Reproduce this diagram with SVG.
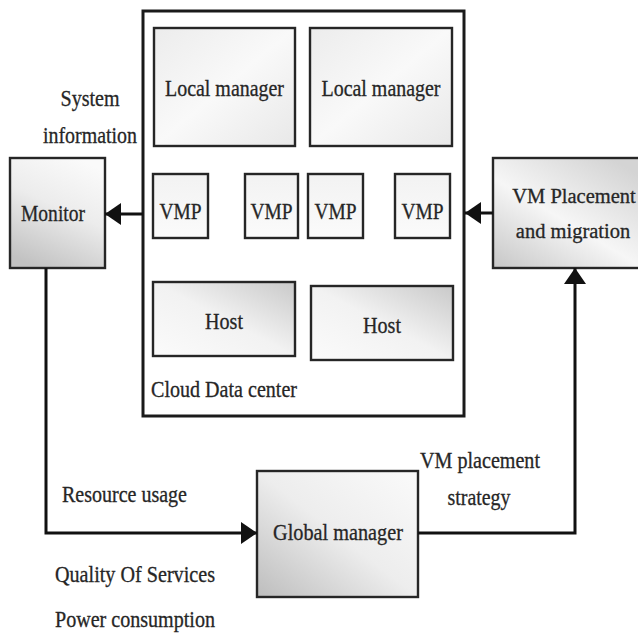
<svg xmlns="http://www.w3.org/2000/svg" width="638" height="636" viewBox="0 0 638 636">
  <defs>
    <style>
      .box { stroke: #262626; stroke-width: 2.4; }
      .lbl { font-family: "Liberation Serif", "Times New Roman", serif; font-size: 23px; fill: #262626; stroke: #262626; stroke-width: 0.3; }
      .edge { font-size: 20.5px; }
      .mid { text-anchor: middle; }
      .wire { fill: none; stroke: #111; stroke-width: 3; }
    </style>
    <linearGradient id="gLocal" x1="0" y1="0" x2="1" y2="1">
      <stop offset="0" stop-color="#ececec"/>
      <stop offset="0.5" stop-color="#f9f9f9"/>
      <stop offset="1" stop-color="#e8e8e8"/>
    </linearGradient>
    <linearGradient id="gVmp" x1="0" y1="0" x2="0" y2="1">
      <stop offset="0" stop-color="#f2f2f2"/>
      <stop offset="1" stop-color="#fbfbfb"/>
    </linearGradient>
    <linearGradient id="gMonitor" x1="0.7" y1="0" x2="0.3" y2="1">
      <stop offset="0" stop-color="#fafafa"/>
      <stop offset="0.45" stop-color="#ececec"/>
      <stop offset="1" stop-color="#c2c2c2"/>
    </linearGradient>
    <linearGradient id="gHost" x1="0" y1="1" x2="1" y2="0">
      <stop offset="0" stop-color="#fbfbfb"/>
      <stop offset="0.5" stop-color="#f2f2f2"/>
      <stop offset="1" stop-color="#c9c9c9"/>
    </linearGradient>
    <linearGradient id="gGlobal" x1="0" y1="1" x2="1" y2="0">
      <stop offset="0" stop-color="#bdbdbd"/>
      <stop offset="0.5" stop-color="#ededed"/>
      <stop offset="1" stop-color="#fafafa"/>
    </linearGradient>
    <linearGradient id="gPlace" x1="0" y1="1" x2="0.8" y2="0">
      <stop offset="0" stop-color="#c6c6c6"/>
      <stop offset="0.5" stop-color="#f6f6f6"/>
      <stop offset="1" stop-color="#d4d4d4"/>
    </linearGradient>
    <marker id="head" viewBox="0 0 16 22" refX="16" refY="11" markerWidth="16" markerHeight="22" markerUnits="userSpaceOnUse" orient="auto">
      <path d="M0,0 L16,11 L0,22 z" fill="#111"/>
    </marker>
  </defs>

  <rect width="638" height="636" fill="#ffffff"/>

  <!-- Cloud data center container -->
  <g id="cloud">
    <rect x="143" y="11" width="321" height="405" fill="#ffffff" stroke="#1a1a1a" stroke-width="3"/>
    <text class="lbl" x="151" y="397" textLength="146" lengthAdjust="spacingAndGlyphs">Cloud Data center</text>
  </g>

  <g id="local1">
    <rect class="box" x="154" y="28" width="141" height="118" fill="url(#gLocal)"/>
    <text class="lbl mid" x="224.5" y="96" textLength="119" lengthAdjust="spacingAndGlyphs">Local manager</text>
  </g>
  <g id="local2">
    <rect class="box" x="310" y="28" width="142" height="118" fill="url(#gLocal)"/>
    <text class="lbl mid" x="381" y="96" textLength="119" lengthAdjust="spacingAndGlyphs">Local manager</text>
  </g>

  <g id="vmp1">
    <rect class="box" x="153" y="174" width="55" height="64" fill="url(#gVmp)"/>
    <text class="lbl mid" x="180.5" y="219" textLength="42" lengthAdjust="spacingAndGlyphs">VMP</text>
  </g>
  <g id="vmp2">
    <rect class="box" x="245" y="174" width="53" height="64" fill="url(#gVmp)"/>
    <text class="lbl mid" x="271.5" y="219" textLength="42" lengthAdjust="spacingAndGlyphs">VMP</text>
  </g>
  <g id="vmp3">
    <rect class="box" x="308" y="174" width="55" height="64" fill="url(#gVmp)"/>
    <text class="lbl mid" x="335.5" y="219" textLength="42" lengthAdjust="spacingAndGlyphs">VMP</text>
  </g>
  <g id="vmp4">
    <rect class="box" x="395" y="174" width="55" height="64" fill="url(#gVmp)"/>
    <text class="lbl mid" x="422.5" y="219" textLength="42" lengthAdjust="spacingAndGlyphs">VMP</text>
  </g>

  <g id="host1">
    <rect class="box" x="153" y="282" width="142" height="74" fill="url(#gHost)"/>
    <text class="lbl mid" x="224" y="329" textLength="38" lengthAdjust="spacingAndGlyphs">Host</text>
  </g>
  <g id="host2">
    <rect class="box" x="311" y="286" width="142" height="74" fill="url(#gHost)"/>
    <text class="lbl mid" x="382" y="333" textLength="38" lengthAdjust="spacingAndGlyphs">Host</text>
  </g>

  <!-- Outer components -->
  <g id="monitor">
    <rect class="box" x="10" y="158" width="95" height="110" fill="url(#gMonitor)"/>
    <text class="lbl mid" x="53" y="221" textLength="64" lengthAdjust="spacingAndGlyphs">Monitor</text>
  </g>

  <!-- placement box runs out past the right edge of the canvas -->
  <g id="placement">
    <rect class="box" x="493" y="158" width="147" height="110" fill="url(#gPlace)"/>
    <text class="lbl edge mid" x="574" y="203">VM Placement</text>
    <text class="lbl edge mid" x="573" y="238">and migration</text>
  </g>

  <g id="global">
    <rect class="box" x="257" y="471" width="161" height="126" fill="url(#gGlobal)"/>
    <text class="lbl mid" x="338" y="540" textLength="130" lengthAdjust="spacingAndGlyphs">Global manager</text>
  </g>

  <!-- Connectors -->
  <g id="connectors">
    <path class="wire" d="M143,214 L105,214" marker-end="url(#head)"/>
    <path class="wire" d="M493,213 L465,213" marker-end="url(#head)"/>
    <path class="wire" d="M46,268 L46,533 L257,533" marker-end="url(#head)"/>
    <path class="wire" d="M418,533 L575,533 L575,268" marker-end="url(#head)"/>
  </g>

  <!-- Connector labels -->
  <g id="labels">
    <text class="lbl mid" x="90" y="106" textLength="59" lengthAdjust="spacingAndGlyphs">System</text>
    <text class="lbl mid" x="90" y="143" textLength="94" lengthAdjust="spacingAndGlyphs">information</text>
    <text class="lbl" x="62" y="502" textLength="125" lengthAdjust="spacingAndGlyphs">Resource usage</text>
    <text class="lbl" x="55" y="582" textLength="160" lengthAdjust="spacingAndGlyphs">Quality Of Services</text>
    <text class="lbl" x="55" y="627" textLength="160" lengthAdjust="spacingAndGlyphs">Power consumption</text>
    <text class="lbl mid" x="480" y="468" textLength="120" lengthAdjust="spacingAndGlyphs">VM placement</text>
    <text class="lbl mid" x="479" y="505" textLength="63" lengthAdjust="spacingAndGlyphs">strategy</text>
  </g>
</svg>
